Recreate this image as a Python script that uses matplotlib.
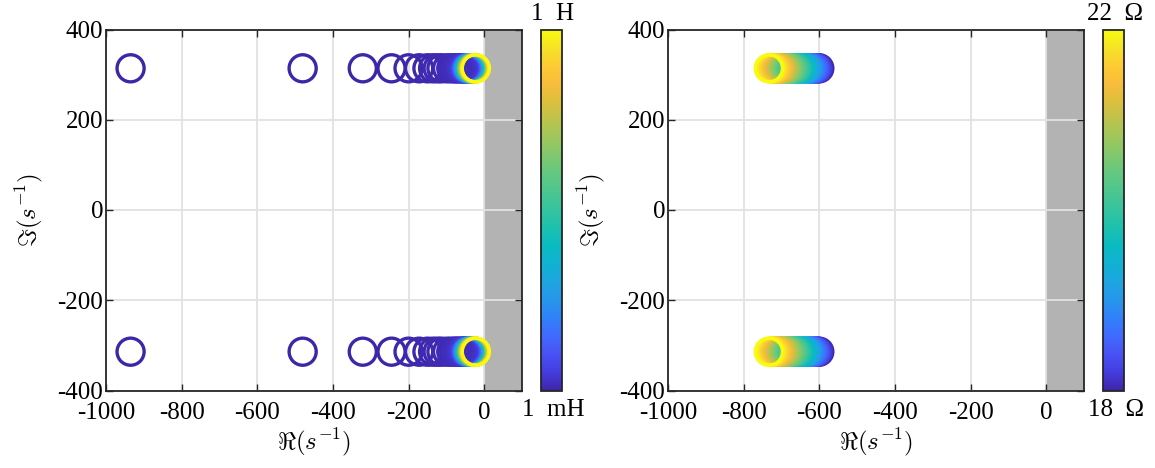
import numpy as np
import matplotlib
matplotlib.use("Agg")
import matplotlib.pyplot as plt
from matplotlib.colors import LinearSegmentedColormap, Normalize
import matplotlib.colorbar as mcolorbar

plt.rcParams['font.family'] = ['Liberation Serif', 'DejaVu Serif']
plt.rcParams['mathtext.fontset'] = 'cm'
plt.rcParams['axes.unicode_minus'] = False

# ---------------- data ----------------
# Left panel: inductance sweep (H) and real part of poles (1/s)
L_values_H = [0.001, 0.002, 0.003, 0.004, 0.005, 0.006, 0.007, 0.008, 0.009, 0.010,
              0.012, 0.014, 0.016, 0.018, 0.020, 0.025, 0.030, 0.035, 0.040, 0.050,
              0.060, 0.070, 0.080, 0.100, 0.120, 0.150, 0.200, 0.250, 0.300, 0.350,
              0.400, 0.450, 0.500, 0.550, 0.600, 0.650, 0.700, 0.750, 0.800, 0.850,
              0.900, 0.950, 1.000]
L_real = [-935, -480, -321, -245, -200, -172, -150, -135, -123, -113,
          -98, -87, -79, -73, -68, -62, -58, -55, -53, -50,
          -48, -47, -46, -45, -44, -43, -41, -39.5, -38, -36.5,
          -35, -33.5, -32, -31, -30, -29, -28, -27, -26, -25,
          -24, -23, -22]
L_imag = 314

# Right panel: resistance sweep (Ohm) and real part of poles (1/s)
R_values_ohm = [18.0, 18.1, 18.2, 18.3, 18.4, 18.5, 18.6, 18.7, 18.8, 18.9,
                19.0, 19.1, 19.2, 19.3, 19.4, 19.5, 19.6, 19.7, 19.8, 19.9,
                20.0, 20.1, 20.2, 20.3, 20.4, 20.5, 20.6, 20.7, 20.8, 20.9,
                21.0, 21.1, 21.2, 21.3, 21.4, 21.5, 21.6, 21.7, 21.8, 21.9, 22.0]
R_real = [-600.0, -603.3, -606.7, -610.0, -613.3, -616.7, -620.0, -623.3, -626.7, -630.0,
          -633.3, -636.7, -640.0, -643.3, -646.7, -650.0, -653.3, -656.7, -660.0, -663.3,
          -666.7, -670.0, -673.3, -676.7, -680.0, -683.3, -686.7, -690.0, -693.3, -696.7,
          -700.0, -703.3, -706.7, -710.0, -713.3, -716.7, -720.0, -723.3, -726.7, -730.0,
          -733.3]
R_imag = 314

x_ticks = [-1000, -800, -600, -400, -200, 0]
y_ticks = [-400, -200, 0, 200, 400]

# ---------------- colormap (parula-like) ----------------
parula_pts = [
    (0.00, (0.2422, 0.1504, 0.6603)),
    (0.05, (0.2700, 0.2350, 0.8800)),
    (0.10, (0.2810, 0.3228, 0.9579)),
    (0.15, (0.2550, 0.4150, 0.9950)),
    (0.20, (0.1900, 0.5050, 0.9800)),
    (0.25, (0.1540, 0.5902, 0.9218)),
    (0.30, (0.1175, 0.6490, 0.8806)),
    (0.35, (0.0670, 0.6958, 0.8255)),
    (0.40, (0.0380, 0.7300, 0.7600)),
    (0.45, (0.1100, 0.7533, 0.6857)),
    (0.50, (0.2081, 0.7670, 0.6200)),
    (0.60, (0.3828, 0.7850, 0.5060)),
    (0.70, (0.6116, 0.7815, 0.3603)),
    (0.80, (0.8600, 0.7500, 0.2400)),
    (0.85, (0.9719, 0.7404, 0.2362)),
    (0.90, (0.9958, 0.7932, 0.2040)),
    (0.95, (0.9639, 0.8883, 0.1535)),
    (1.00, (0.9763, 0.9831, 0.0538)),
]
parula = LinearSegmentedColormap.from_list('parula', parula_pts, N=256)

# ---------------- figure ----------------
W, H = 1155, 468
fig = plt.figure(figsize=(W / 100, H / 100), dpi=100)

def fx(px):
    return px / W

def fy(py):
    return 1 - py / H

ax_top, ax_bot = 29.5, 390.5
axL = fig.add_axes([fx(106), fy(ax_bot), fx(522) - fx(106), (ax_bot - ax_top) / H])
axR = fig.add_axes([fx(668), fy(ax_bot), fx(1084) - fx(668), (ax_bot - ax_top) / H])
caxL = fig.add_axes([fx(541), fy(ax_bot), fx(21), (ax_bot - ax_top) / H])
caxR = fig.add_axes([fx(1103), fy(ax_bot), fx(21), (ax_bot - ax_top) / H])

dark = (0.15, 0.15, 0.15)
msize = 19.5 ** 2
mlw = 2.4
FS = 18

def style_axes(ax):
    ax.set_xlim(-1000, 100)
    ax.set_ylim(-400, 400)
    ax.set_xticks(x_ticks)
    ax.set_yticks(y_ticks)
    ax.axvspan(0, 100, color=(0.70, 0.70, 0.70), zorder=1, lw=0)
    ax.set_axisbelow(False)
    ax.grid(True, color='#e2e2e2', linewidth=1.3, zorder=2)
    ax.tick_params(direction='in', top=True, right=True, length=5, width=1.0,
                   colors=dark, labelsize=FS, labelcolor='black')
    ax.tick_params(axis='x', pad=8)
    ax.tick_params(axis='y', pad=2)
    for s in ax.spines.values():
        s.set_color(dark)
        s.set_linewidth(1.3)
        s.set_zorder(4)
    ax.set_xlabel(r'$\Re(s^{-1})$', fontsize=FS, labelpad=2)
    ax.set_ylabel(r'$\Im(s^{-1})$', fontsize=FS, labelpad=9)

style_axes(axL)
style_axes(axR)

normL = Normalize(vmin=0.001, vmax=1.0)
colsL = parula(normL(np.array(L_values_H)))
for i in range(len(L_real)):
    for sign in (1, -1):
        axL.scatter([L_real[i]], [sign * L_imag], s=msize, facecolors='none',
                    edgecolors=[colsL[i]], linewidths=mlw, zorder=3)

normR = Normalize(vmin=18, vmax=22)
colsR = parula(normR(np.array(R_values_ohm)))
for i in range(len(R_real)):
    for sign in (1, -1):
        axR.scatter([R_real[i]], [sign * R_imag], s=msize, facecolors='none',
                    edgecolors=[colsR[i]], linewidths=mlw, zorder=3)

for cax, norm in ((caxL, normL), (caxR, normR)):
    cb = mcolorbar.ColorbarBase(cax, cmap=parula, norm=norm, orientation='vertical')
    cb.set_ticks([])
    cb.outline.set_edgecolor(dark)
    cb.outline.set_linewidth(1.3)

fig.text(fx(553), fy(14), '1  H', ha='center', va='center', fontsize=FS)
fig.text(fx(553), fy(410), '1  mH', ha='center', va='center', fontsize=FS)
fig.text(fx(1115), fy(14), '22  Ω', ha='center', va='center', fontsize=FS)
fig.text(fx(1116), fy(410), '18  Ω', ha='center', va='center', fontsize=FS)

fig.savefig('out.png', dpi=100)
